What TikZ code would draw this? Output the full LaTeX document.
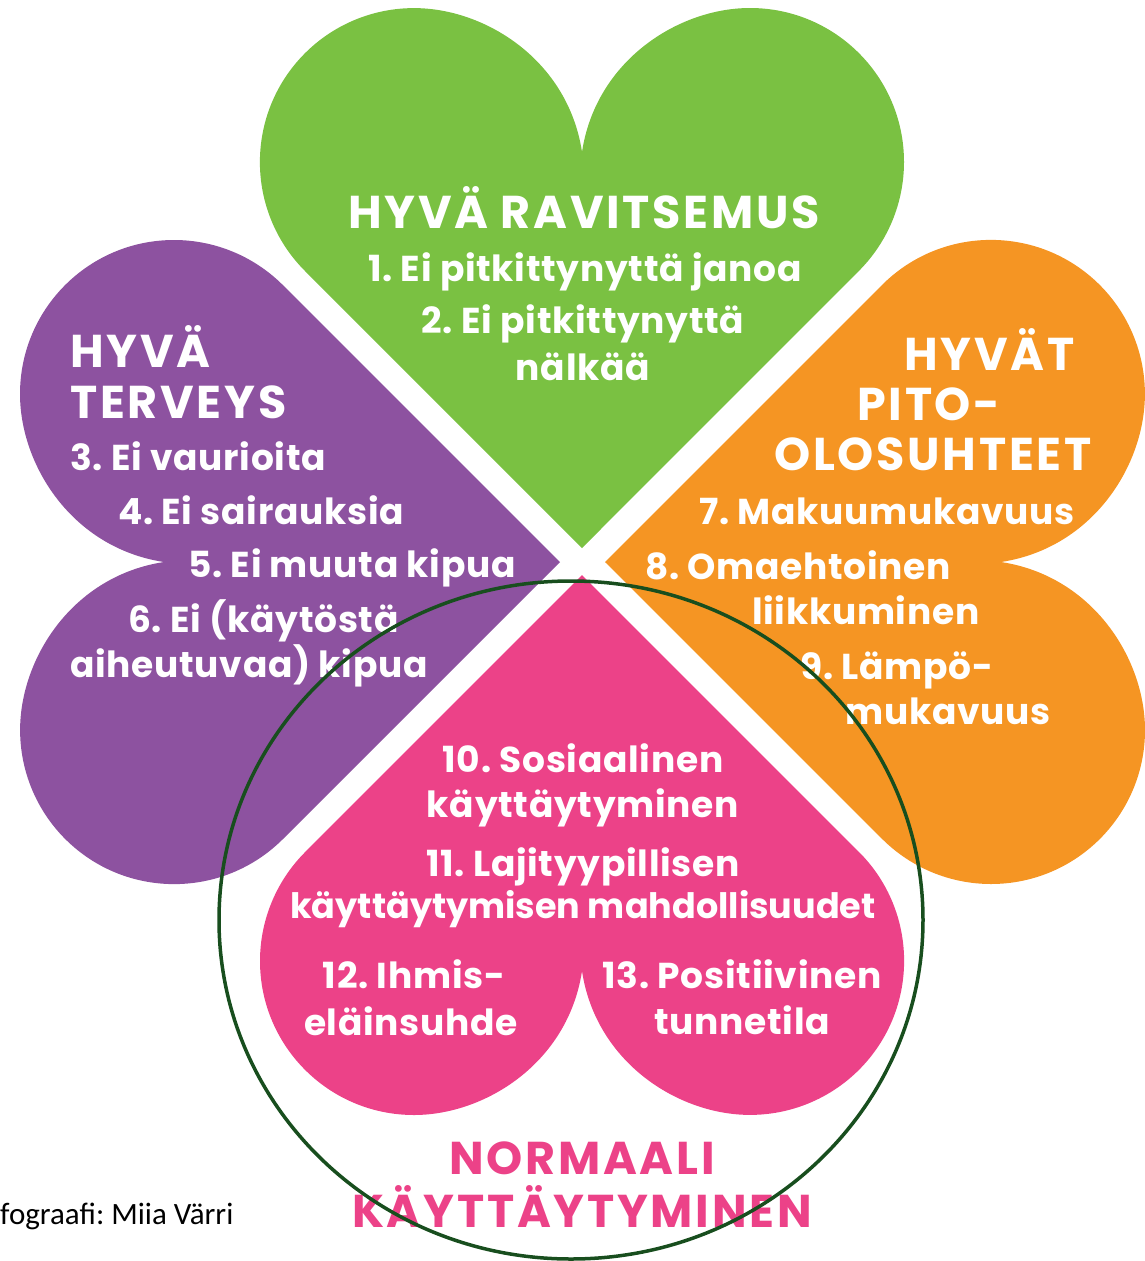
\documentclass[tikz,border=0pt]{standalone}
\usepackage{fontspec}
\setmainfont{Poppins}
\newfontfamily\creditfont{Carlito}
\frenchspacing
\definecolor{leafgreen}{RGB}{122, 193, 66}
\definecolor{leafviolet}{RGB}{141, 82, 160}
\definecolor{leaforange}{RGB}{245, 149, 35}
\definecolor{leafpink}{RGB}{236, 66, 136}
\definecolor{ringgreen}{RGB}{24, 78, 30}
\usetikzlibrary{positioning}

\begin{document}
\begin{tikzpicture}[x=1pt, y=1pt,
  heart/.pic={
    \path[pic actions] (0,13) -- (-277,290)
      arc[start angle=225, end angle=90, radius=154]
      .. controls (-97,553) and (-14,501) .. (0,409)
      .. controls (14,501) and (97,553) .. (168,553)
      arc[start angle=90, end angle=-45, radius=154]
      -- cycle;
  },
  head/.style={font=\fontsize{46}{46}\selectfont\bfseries\addfontfeatures{LetterSpace=6},
               text=white, inner sep=0pt},
  item/.style={font=\fontsize{36}{36}\selectfont\bfseries\addfontfeatures{LetterSpace=2},
               text=white, inner sep=0pt},
]
\useasboundingbox (0,-1261) rectangle (1145,0);

% Leaves
\pic[fill=leafgreen] at (582,-561) {heart};
\pic[fill=leafviolet, rotate=90] at (573,-562) {heart};
\pic[fill=leaforange, rotate=-90] at (592,-562) {heart};
\pic[fill=leafpink, rotate=180] at (582,-562) {heart};

% Hyva ravitsemus
\node[head, anchor=base] (ravhead) at (584,-228) {HYVÄ RAVITSEMUS};
\node[item, anchor=base] (rav1) at (585,-281) {1. Ei pitkittynyttä janoa};
\node[item, anchor=base] (rav2) at (583,-333) {2. Ei pitkittynyttä};
\node[item, anchor=base] (rav3) at (583,-380) {nälkää};

% Hyva terveys
\node[head, anchor=base west] (terhead1) at (70,-367) {HYVÄ};
\node[head, anchor=base west] (terhead2) at (70,-418) {TERVEYS};
\node[item, anchor=base west] (ter3) at (70,-470) {3. Ei vaurioita};
\node[item, anchor=base west] (ter4) at (118,-524) {4. Ei sairauksia};
\node[item, anchor=base west] (ter5) at (188,-577) {5. Ei muuta kipua};
\node[item, anchor=base west] (ter6a) at (128,-632) {6. Ei (käytöstä};
\node[item, anchor=base west] (ter6b) at (70,-677) {aiheutuvaa) kipua};

% Hyvat pito-olosuhteet
\node[head, anchor=base east] (pithead1) at (1075,-370) {HYVÄT};
\node[head, anchor=base west] (pithead2) at (857,-420) {PITO-};
\node[head, anchor=base east] (pithead3) at (1092,-470) {OLOSUHTEET};
\node[item, anchor=base east] (pit7) at (1075,-524) {7. Makuumukavuus};
\node[item, anchor=base west] (pit8a) at (645,-579) {8. Omaehtoinen};
\node[item, anchor=base west] (pit8b) at (752,-624) {liikkuminen};
\node[item, anchor=base west] (pit9a) at (800,-679) {9. Lämpö-};
\node[item, anchor=base west] (pit9b) at (845,-724) {mukavuus};

% Normaali kayttaytyminen
\node[item, anchor=base] (kay10a) at (583,-772) {10. Sosiaalinen};
\node[item, anchor=base] (kay10b) at (583,-817) {käyttäytyminen};
\node[item, anchor=base] (kay11a) at (583,-876) {11. Lajityypillisen};
\node[item, font=\fontsize{35}{35}\selectfont\bfseries, anchor=base] (kay11b) at (583,-918) {käyttäytymisen mahdollisuudet};
\node[item, anchor=base] (kay12a) at (414,-988) {12. Ihmis-};
\node[item, anchor=base] (kay12b) at (411,-1035) {eläinsuhde};
\node[item, anchor=base] (kay13a) at (742,-988) {13. Positiivinen};
\node[item, anchor=base] (kay13b) at (742,-1034) {tunnetila};
\node[head, text=leafpink, anchor=base] (kayhead1) at (582,-1174) {NORMAALI};
\node[head, text=leafpink, anchor=base] (kayhead2) at (582,-1227) {KÄYTTÄYTYMINEN};

% Credit
\node[font=\creditfont\fontsize{31}{31}\selectfont, inner sep=0pt, anchor=base west] (credit) at (0,-1224) {fograafi: Miia Värri};

% Ring
\draw[ringgreen, line width=3.5pt] (571,-920) ellipse[x radius=352, y radius=339];
\end{tikzpicture}
\end{document}
